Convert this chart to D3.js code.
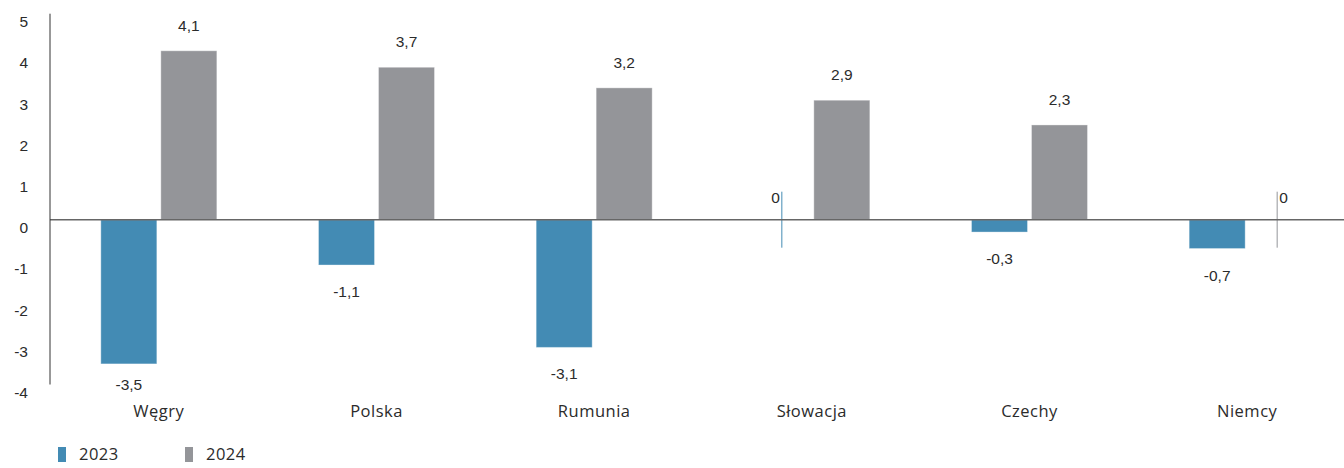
<!DOCTYPE html>
<html>
<head>
<meta charset="utf-8">
<script src="https://cdn.jsdelivr.net/npm/d3@7"></script>
<style>
  html, body { margin: 0; padding: 0; background: #fff; }
  svg { display: block; }
  .tick-label, .value-label { font-family: "Liberation Sans", Arial, sans-serif; font-size: 15.5px; fill: #2b2b2b; }
  .cat-label, .legend-label { font-family: "Open Sans", sans-serif; font-size: 16.5px; fill: #2b2b2b; letter-spacing: 0.5px; }
</style>
</head>
<body>
<svg id="chart" width="1344" height="468"></svg>
<script>
// GDP growth by country, 2023 vs 2024
const countries = ["Węgry", "Polska", "Rumunia", "Słowacja", "Czechy", "Niemcy"];
const years = ["2023", "2024"];
const values2023 = [-3.5, -1.1, -3.1, 0, -0.3, -0.7];
const values2024 = [4.1, 3.7, 3.2, 2.9, 2.3, 0];
const yTicks = [5, 4, 3, 2, 1, 0, -1, -2, -3, -4];
const colors = { "2023": "#438bb4", "2024": "#949599" };

const series = { "2023": values2023, "2024": values2024 };
const rows = countries.map((c, i) => ({
  country: c,
  items: years.map(yr => ({ year: yr, value: series[yr][i] }))
}));

const svg = d3.select("#chart");

const x0 = d3.scaleBand().domain(countries).range([50, 1356]).paddingInner(0).paddingOuter(0);
const x1 = d3.scaleBand().domain(years).range([x0.bandwidth() / 2 - 58, x0.bandwidth() / 2 + 58]).paddingInner(4 / 60).paddingOuter(0);
const y = d3.scaleLinear().domain([-4, 5]).range([384.5, 13.7]);

const fmt = v => d3.format(".1~f")(v).replace(".", ",").replace("−", "-");

// y axis tick labels
svg.append("g").selectAll("text")
  .data(yTicks)
  .join("text")
  .attr("class", "tick-label")
  .attr("x", 28)
  .attr("y", d => y(d) + 13.5)
  .attr("text-anchor", "end")
  .text(d => String(d));

// bars
const groups = svg.append("g").selectAll("g")
  .data(rows)
  .join("g")
  .attr("transform", d => `translate(${x0(d.country)},0)`);

groups.selectAll("rect")
  .data(d => d.items.filter(it => it.value !== 0))
  .join("rect")
  .attr("x", d => x1(d.year))
  .attr("width", x1.bandwidth())
  .attr("y", d => Math.min(y(d.value), y(0)))
  .attr("height", d => Math.abs(y(d.value) - y(0)))
  .attr("fill", d => colors[d.year])
  .attr("stroke", "#fff")
  .attr("stroke-opacity", 0.35)
  .attr("stroke-width", 1);

// zero-value markers
groups.selectAll("line.zero")
  .data(d => d.items.filter(it => it.value === 0))
  .join("line")
  .attr("class", "zero")
  .attr("x1", d => x1(d.year) + x1.bandwidth() / 2)
  .attr("x2", d => x1(d.year) + x1.bandwidth() / 2)
  .attr("y1", y(0) - 28)
  .attr("y2", y(0) + 28)
  .attr("stroke", d => colors[d.year])
  .attr("stroke-width", 1);

// value labels
groups.selectAll("text.value-label")
  .data(d => d.items)
  .join("text")
  .attr("class", "value-label")
  .attr("text-anchor", d => d.value === 0 ? (d.year === "2023" ? "end" : "start") : "middle")
  .attr("x", d => {
    const cx = x1(d.year) + x1.bandwidth() / 2;
    if (d.value === 0) return d.year === "2023" ? cx - 2 : cx + 2;
    return cx;
  })
  .attr("y", d => {
    if (d.value === 0) return y(0) - 17;
    if (d.value > 0) return y(d.value) - 20;
    return Math.min(y(d.value) + 32, 390);
  })
  .text(d => fmt(d.value));

// zero line and vertical axis
svg.append("line")
  .attr("x1", 50).attr("x2", 1344)
  .attr("y1", y(0)).attr("y2", y(0))
  .attr("stroke", "#666").attr("stroke-width", 1.5);

svg.append("line")
  .attr("x1", 50).attr("x2", 50)
  .attr("y1", y(5)).attr("y2", y(-4))
  .attr("stroke", "#333").attr("stroke-width", 1);

// category labels
svg.append("g").selectAll("text")
  .data(countries)
  .join("text")
  .attr("class", "cat-label")
  .attr("x", d => x0(d) + x0.bandwidth() / 2)
  .attr("y", 417)
  .attr("text-anchor", "middle")
  .text(d => d);

// legend
const legend = svg.append("g").selectAll("g")
  .data(years)
  .join("g")
  .attr("transform", (d, i) => `translate(${58 + i * 127},447)`);
legend.append("rect")
  .attr("width", 8).attr("height", 15)
  .attr("fill", d => colors[d]);
legend.append("text")
  .attr("class", "legend-label")
  .attr("x", 21).attr("y", 13)
  .text(d => d);
</script>
</body>
</html>
